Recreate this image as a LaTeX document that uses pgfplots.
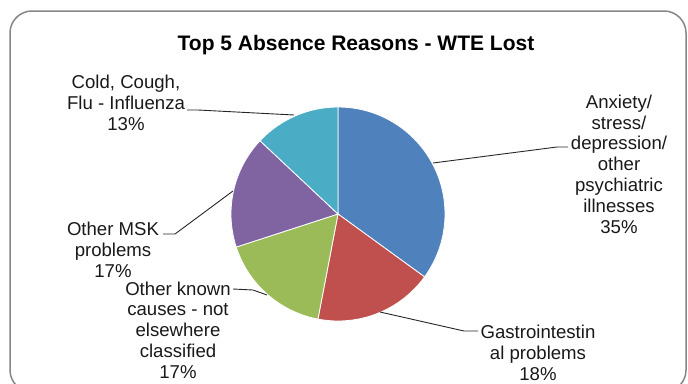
\documentclass[border=0pt]{standalone}
\usepackage{pgfplots}
\pgfplotsset{compat=1.18}
\usepackage{pgfplotstable}
\usepackage{fontspec}
\setmainfont{Liberation Sans}
\definecolor{sBlue}{HTML}{4F81BD}
\definecolor{sRed}{HTML}{C0504D}
\definecolor{sGreen}{HTML}{9BBB59}
\definecolor{sPurple}{HTML}{8064A2}
\definecolor{sAqua}{HTML}{4BACC6}
\definecolor{frame}{HTML}{868686}
\pgfplotstableread{
label value
Anxiety 35
Gastro 18
Known 17
MSK 17
Cold 13
}\piedata
\pgfplotstablegetelem{0}{value}\of\piedata\let\vA\pgfplotsretval
\pgfplotstablegetelem{1}{value}\of\piedata\let\vB\pgfplotsretval
\pgfplotstablegetelem{2}{value}\of\piedata\let\vC\pgfplotsretval
\pgfplotstablegetelem{3}{value}\of\piedata\let\vD\pgfplotsretval
\pgfplotstablegetelem{4}{value}\of\piedata\let\vE\pgfplotsretval
\pgfmathsetmacro\aA{90}
\pgfmathsetmacro\aB{\aA-3.6*\vA}
\pgfmathsetmacro\aC{\aB-3.6*\vB}
\pgfmathsetmacro\aD{\aC-3.6*\vC}
\pgfmathsetmacro\aE{\aD-3.6*\vD}
\pgfmathsetmacro\aF{\aE-3.6*\vE}
\def\cx{338}\def\cy{214}\def\rr{107}
\newcommand\slice[3]{\fill[#3, draw=white, line width=0.8pt] (axis cs:\cx,\cy) -- (axis cs:{\cx+\rr*cos(#1)},{\cy-\rr*sin(#1)}) arc[start angle=#1, end angle=#2, radius=\rr pt] -- cycle;}
\begin{document}
\begin{tikzpicture}
\begin{axis}[
  x=1pt, y=1pt, y dir=reverse,
  xmin=0, xmax=688, ymin=0, ymax=383,
  hide axis, scale only axis, clip=false,
]
\draw[frame, line width=1.5pt, rounded corners=22pt] (axis cs:10,11) rectangle (axis cs:686,392);
\slice{\aA}{\aB}{sBlue}
\slice{\aB}{\aC}{sRed}
\slice{\aC}{\aD}{sGreen}
\slice{\aD}{\aE}{sPurple}
\slice{\aE}{\aF}{sAqua}
\node[font=\bfseries\fontsize{21}{24}\selectfont, inner sep=0] at (axis cs:356,45) {Top 5 Absence Reasons - WTE Lost};
\tikzset{lbl/.style={font=\fontsize{18.6}{20.8}\selectfont, align=center, inner sep=0, text=black!90}}
\draw[black!85, line width=0.9pt] (axis cs:187,110) -- (axis cs:198,110) -- (axis cs:294,115);
\draw[black!85, line width=0.9pt] (axis cs:163,234) -- (axis cs:175,234) -- (axis cs:233,191);
\draw[black!85, line width=0.9pt] (axis cs:233,289) -- (axis cs:253,290) -- (axis cs:267,295);
\draw[black!85, line width=0.9pt] (axis cs:478,331) -- (axis cs:464,331) -- (axis cs:380,312);
\draw[black!85, line width=0.9pt] (axis cs:568,147) -- (axis cs:557,147) -- (axis cs:433,163);
\node[lbl] at (axis cs:126,103) {Cold, Cough,\\Flu - Influenza\\13\%};
\node[lbl] at (axis cs:113,250) {Other MSK\\problems\\17\%};
\node[lbl] at (axis cs:178,330) {Other known\\causes - not\\elsewhere\\classified\\17\%};
\node[lbl] at (axis cs:538,353) {Gastrointestin\\al problems\\18\%};
\node[lbl] at (axis cs:619,164) {Anxiety/\\stress/\\depression/\\other\\psychiatric\\illnesses\\35\%};
\end{axis}
\pgfresetboundingbox
\path[use as bounding box] (current axis.south west) rectangle (current axis.north east);
\end{tikzpicture}
\end{document}
